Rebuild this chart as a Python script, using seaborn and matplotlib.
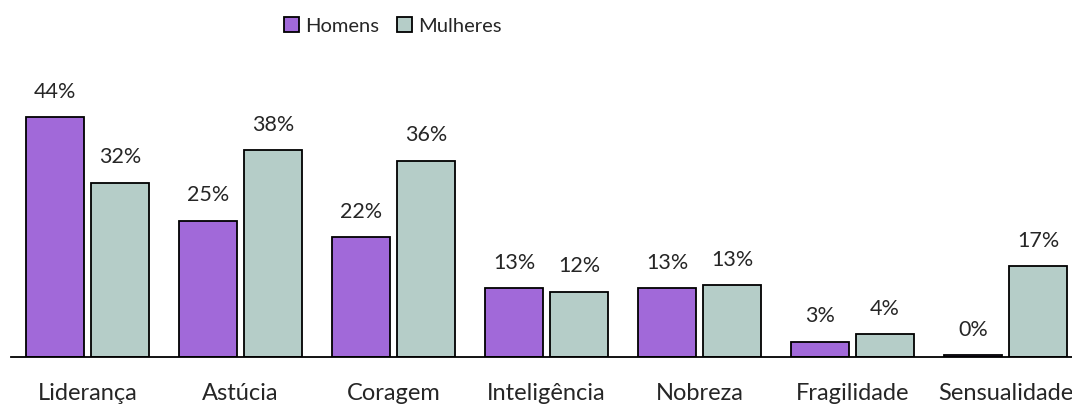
import matplotlib
matplotlib.use("Agg")
import matplotlib.pyplot as plt
import seaborn as sns
import pandas as pd

categorias = ["Liderança", "Astúcia", "Coragem", "Inteligência", "Nobreza", "Fragilidade", "Sensualidade"]
homens = [44, 25, 22, 12.6, 12.6, 2.8, 0.4]
mulheres = [32, 38, 36, 12, 13.2, 4.2, 16.7]
series = ["Homens", "Mulheres"]
cores = ["#A169D9", "#B5CDC8"]

sns.set_style("white")
plt.rcParams["font.family"] = ["Lato", "DejaVu Sans"]

df = pd.DataFrame({
    "Categoria": categorias * 2,
    "Valor": homens + mulheres,
    "Sexo": [series[0]] * len(categorias) + [series[1]] * len(categorias),
})

fig = plt.figure(figsize=(10.72, 4.05), dpi=100)
ax = fig.add_axes([11 / 1072, 48 / 405, 1071 / 1072, 0.673])

sns.barplot(data=df, x="Categoria", y="Valor", hue="Sexo", palette=cores,
            width=0.85, gap=0.11, edgecolor="black", linewidth=1.3,
            saturation=1, ax=ax)

for cont, vals in zip(ax.containers, [homens, mulheres]):
    ax.bar_label(cont, labels=[f"{v:.0f}%" for v in vals], padding=11, fontsize=15.5)

ax.set_xlim(-0.5, 6.5)
ax.set_ylim(0, 50)
ax.set_xlabel("")
ax.set_ylabel("")
ax.set_yticks([])
ax.tick_params(axis="x", length=0, pad=18.5, labelsize=17)
for s in ["top", "left", "right"]:
    ax.spines[s].set_visible(False)
ax.spines["bottom"].set_color("black")
ax.spines["bottom"].set_linewidth(1.3)

handles, labels = ax.get_legend_handles_labels()
ax.get_legend().remove()
fig.legend(handles, labels, loc="center", bbox_to_anchor=(393 / 1072, 1 - 26 / 405),
           ncol=2, frameon=False, fontsize=14.5, handlelength=0.75, handleheight=0.75,
           handletextpad=0.3, columnspacing=0.9, borderpad=0)

fig.savefig("out.png", dpi=100)
